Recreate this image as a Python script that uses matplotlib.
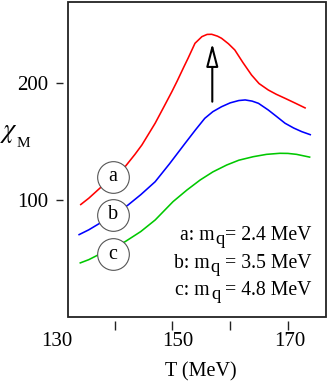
import matplotlib
matplotlib.use("Agg")
import matplotlib.pyplot as plt
from matplotlib.patches import FancyArrowPatch

plt.rcParams['font.family'] = ['Liberation Serif', 'DejaVu Serif']

# ---- data ----
T_a = [134.0, 135.5, 137.4, 139.5, 141.8, 143.5, 144.7, 146.0, 147.0, 148.5,
       149.9, 150.8, 152.0, 152.7, 153.9, 155.1, 156.0, 156.8, 157.8, 158.5,
       159.7, 160.8, 162.2, 163.7, 165.0, 166.6, 168.0, 169.5, 171.3, 173.1]
chi_a = [95.7, 101.5, 110.0, 119.0, 128.5, 139.0, 147.0, 157.5, 165.6, 179.5,
         192.6, 201.5, 214.0, 221.1, 233.9, 239.6, 241.5, 241.6, 240.0, 238.2,
         233.5, 228.2, 217.5, 206.8, 199.5, 194.0, 190.3, 186.9, 182.7, 178.4]

T_b = [133.7, 135.5, 137.4, 140.0, 142.3, 144.5, 147.0, 149.5, 152.2, 154.0,
       155.6, 157.0, 158.5, 160.0, 161.5, 162.6, 163.8, 164.9, 166.6, 168.0,
       169.5, 171.0, 172.4, 174.0]
chi_b = [70.1, 74.5, 80.1, 87.5, 95.7, 104.5, 115.6, 131.0, 148.5, 160.0,
         169.8, 175.5, 179.7, 183.0, 185.0, 185.5, 184.5, 182.6, 176.9, 171.5,
         165.6, 161.5, 158.4, 155.6]

T_c = [133.9, 135.5, 137.1, 139.5, 141.8, 144.5, 147.0, 148.5, 150.1, 152.5,
       154.8, 157.0, 159.4, 161.5, 164.0, 166.3, 168.6, 170.0, 171.5, 173.9]
chi_c = [46.0, 49.0, 53.0, 58.3, 64.4, 73.0, 82.9, 90.5, 98.6, 108.5,
         117.1, 124.0, 129.9, 134.0, 137.0, 139.0, 139.9, 139.8, 139.0, 136.5]

curve_colors = ['#ff0000', '#0000ff', '#00c800']
curve_tags = ['a', 'b', 'c']
tag_T = 139.7
tag_chi = [119.7, 87.2, 53.8]

legend_prefix = ['a: m', 'b: m', 'c: m']
legend_sub = ['q', 'q', 'q']
legend_suffix = ['= 2.4 MeV', ' = 3.5 MeV', ' = 4.8 MeV']

arrow_T = 156.9
arrow_from = 184.0
arrow_to = 233.9

x_ticks = [140, 150, 160, 170]
x_ticklabel_pos = [130, 151, 170.3]
x_ticklabels = ['130', '150', '170']
y_ticks = [100, 200]
y_ticklabels = ['100', '200']

# ---- figure ----
fig = plt.figure(figsize=(3.27, 3.83), dpi=100)
ax = fig.add_axes([68/327, 1-317/383, 258/327, 315/383])
ax.set_xlim(131.9, 176.6)
ax.set_ylim(0, 269.2)

for T, c, col in zip([T_a, T_b, T_c], [chi_a, chi_b, chi_c], curve_colors):
    ax.plot(T, c, color=col, lw=1.15, zorder=2, solid_capstyle='butt',
            solid_joinstyle='round')

ax.scatter([tag_T]*3, tag_chi, s=520, facecolor='white', edgecolor='#555555',
           linewidths=0.8, zorder=3)
for t, yv in zip(curve_tags, tag_chi):
    ax.text(tag_T, yv, t, ha='center', va='center', fontsize=14.5, zorder=4)

arr = FancyArrowPatch((arrow_T, arrow_from), (arrow_T, arrow_to),
                      arrowstyle='-|>,head_length=14,head_width=3.6',
                      mutation_scale=1, shrinkA=0, shrinkB=0,
                      fc='white', ec='black', lw=1.5, zorder=5)
ax.add_patch(arr)

# frame
for sp in ax.spines.values():
    sp.set_color('none')
ax.spines['bottom'].set_position(('outward', 2.9))
ax.spines['left'].set_position(('outward', 3.6))
ax.patch.set_edgecolor('#222222')
ax.patch.set_linewidth(1.3)

ax.set_xticks(x_ticks)
ax.set_xticklabels([])
ax.tick_params(axis='x', direction='out', length=6.5, width=1.0, color='#222222',
               labelbottom=False)
ax.set_yticks(y_ticks)
ax.set_yticklabels(y_ticklabels)
ax.tick_params(axis='y', direction='out', length=5, width=1.0, color='#222222',
               pad=5.8, labelsize=15)

for xp, lab in zip(x_ticklabel_pos, x_ticklabels):
    ax.text(xp, -0.079, lab, transform=ax.get_xaxis_transform(), ha='center',
            va='center', fontsize=15)

fig.text(201/327, 1-372/383, 'T (MeV)', ha='center', va='center', fontsize=14.5)
fig.text(0/327, 1-134/383, r'$\chi$', ha='left', va='center', fontsize=19,
         math_fontfamily='stix')
fig.text(17/327, 1-147/383, 'M', ha='left', va='baseline', fontsize=11)

# legend lines: prefix, lowered subscript, suffix (right aligned)
fig.canvas.draw()
renderer = fig.canvas.get_renderer()
W, H = fig.bbox.width, fig.bbox.height
x_right = 311
baselines = [240, 268, 295]
for pre, sub, suf, yb in zip(legend_prefix, legend_sub, legend_suffix, baselines):
    t3 = fig.text(x_right / W, 1 - yb / H, suf, ha='right', va='baseline',
                  fontsize=14.2)
    bb3 = t3.get_window_extent(renderer)
    t2 = fig.text((bb3.x0 + 0.5) / W, 1 - (yb + 4) / H, sub, ha='right',
                  va='baseline', fontsize=13.5)
    bb2 = t2.get_window_extent(renderer)
    fig.text((bb2.x0 - 1.0) / W, 1 - yb / H, pre, ha='right', va='baseline',
             fontsize=14.2)

fig.savefig('out.png', dpi=100)
